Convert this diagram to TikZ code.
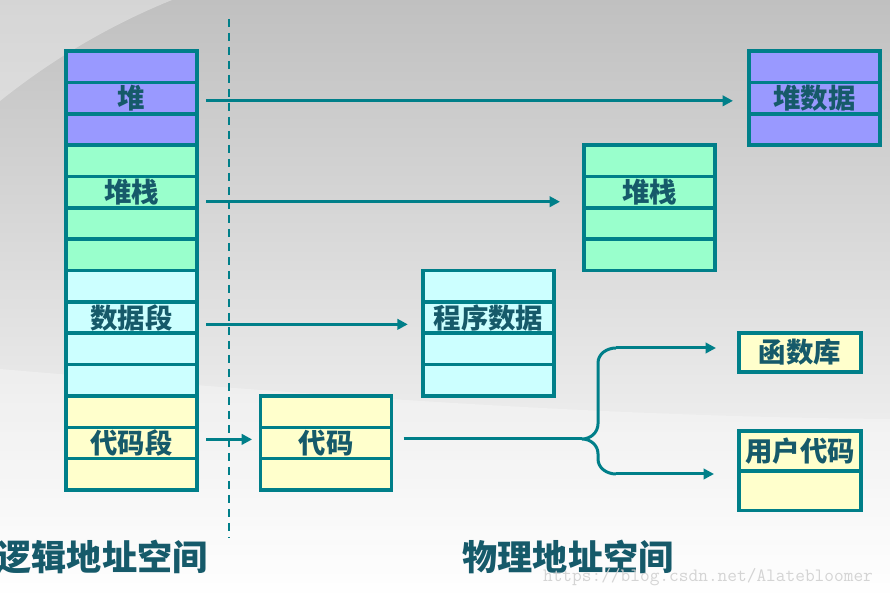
\documentclass[tikz,border=0pt]{standalone}
\usepackage{fontspec}
\newfontfamily\cjk{Noto Sans CJK SC}
\usetikzlibrary{arrows.meta,calc}

\definecolor{edge}{RGB}{0,127,137}
\definecolor{ink}{RGB}{22,90,106}
\definecolor{heapfill}{RGB}{153,153,255}
\definecolor{stackfill}{RGB}{153,255,204}
\definecolor{datafill}{RGB}{204,255,255}
\definecolor{codefill}{RGB}{255,255,204}
\definecolor{bgtop}{RGB}{192,192,192}
\definecolor{bgmid}{RGB}{216,216,216}

\begin{document}
\begin{tikzpicture}[>={Triangle[length=0.26cm,width=0.26cm]},
  cell/.style={draw=edge, line width=0.09cm, minimum width=3.275cm, minimum height=0.784cm, inner sep=0, outer sep=0},
  lbl/.style={text=ink, font=\cjk\bfseries\fontsize{19.5}{20}\selectfont, inner sep=0},
  title/.style={text=ink, font=\cjk\bfseries\fontsize{25}{26}\selectfont, inner sep=0},
  flow/.style={->, draw=edge, line width=0.075cm},
  wire/.style={draw=edge, line width=0.075cm}]

\useasboundingbox (0,0) rectangle (22.25,14.925);
% background
\shade[top color=bgtop, middle color=bgmid, bottom color=white] (0,0) rectangle (22.25,14.925);
\fill[white, opacity=0.35] (0,14.925) -- (0,12.4) .. controls (1.5,13.6) and (3,14.4) .. (4.3,14.925) -- cycle;
\fill[white, opacity=0.3] (0,0) -- (0,5.7) .. controls (7,5.1) and (15,4.5) .. (22.25,4.45) -- (22.25,0) -- cycle;

% logical address space
\foreach \seg/\n/\first/\col in {heap/3/0/heapfill, stack/4/3/stackfill, data/4/7/datafill, code/3/11/codefill}
  \foreach \i in {1,...,\n}
    \node[cell, fill=\col] (l\seg\i) at (3.2875,{13.65-0.784*(\first+\i-0.5)}) {};
\node[lbl] (tlheap) at (lheap2) {堆};
\node[lbl] (tlstack) at (lstack2) {堆栈};
\node[lbl] (tldata) at (ldata2) {数据段};
\node[lbl] (tlcode) at (lcode2) {代码段};

% physical address space
\foreach \i in {1,...,3}
  \node[cell, fill=heapfill] (rheap\i) at (20.3625,{13.65-0.784*(\i-0.5)}) {};
\foreach \i in {1,...,4}
  \node[cell, fill=stackfill] (rstack\i) at (16.2375,{13.65-0.784*(3+\i-0.5)}) {};
\foreach \i in {1,...,4}
  \node[cell, fill=datafill] (rdata\i) at (12.2125,{13.65-0.784*(7+\i-0.5)}) {};
\foreach \i in {1,...,3}
  \node[cell, fill=codefill] (rcode\i) at (8.15,{13.65-0.784*(11+\i-0.5)}) {};
\node[lbl] (trheap) at (rheap2) {堆数据};
\node[lbl] (trstack) at (rstack2) {堆栈};
\node[lbl] (trdata) at (rdata2) {程序数据};
\node[lbl] (trcode) at (rcode2) {代码};

\node[cell, lbl, fill=codefill, minimum width=3.05cm, minimum height=0.975cm] (lib) at (20.0,6.1125) {函数库};
\node[cell, fill=codefill, minimum width=3.05cm, minimum height=0.99cm] (user1) at (20.0,3.65) {};
\node[cell, fill=codefill, minimum width=3.05cm, minimum height=0.99cm] (user2) at (20.0,2.66) {};
\node[lbl] (tuser) at (user1) {用户代码};

% divider
\coordinate (divtop) at (5.725,14.45);
\coordinate (divbot) at (5.725,1.475);
\draw[edge, line width=0.05cm, dash pattern=on 0.2cm off 0.15cm] (divtop) -- (divbot);

% mappings
\draw[flow, shorten <=0.225cm, shorten >=0.4cm] ([yshift=-0.07cm]lheap2.east) -- ([yshift=-0.07cm]rheap2.west);
\draw[flow, shorten <=0.225cm, shorten >=0.6cm] ([yshift=-0.24cm]lstack2.east) -- ([yshift=-0.24cm]rstack2.west);
\draw[flow, shorten <=0.225cm, shorten >=0.38cm] ([yshift=-0.17cm]ldata2.east) -- ([yshift=-0.17cm]rdata2.west);
\draw[flow, shorten <=0.225cm, shorten >=0.21cm] ([yshift=0.09cm]lcode2.east) -- ([yshift=0.09cm]rcode2.west);

% code splits into library and user code
\coordinate (tip) at (14.55,3.95);
\coordinate (btop) at (15.4,6.225);
\coordinate (bbot) at (15.4,3.075);
\draw[wire, shorten <=0.3cm] (rcode2.east |- tip) -- (tip);
\draw[wire] (btop) to[out=180,in=90] (14.95,5.85) -- (14.95,4.33) to[out=-90,in=0] (tip)
  to[out=0,in=90] (14.95,3.58) -- (14.95,3.45) to[out=-90,in=180] (bbot);
\draw[flow, shorten >=0.575cm] (btop) -- (btop -| lib.west);
\draw[flow, shorten >=0.625cm] (bbot) -- (bbot -| user1.west);

% captions
\node[title] (logical) at (2.55,1.0) {逻辑地址空间};
\node[title] (physical) at (14.2,1.0) {物理地址空间};
\node[text=black!17, font=\ttfamily\fontsize{13.4}{14}\selectfont, inner sep=0] (mark) at (17.7,0.5) {https://blog.csdn.net/Alatebloomer};

\end{tikzpicture}
\end{document}
